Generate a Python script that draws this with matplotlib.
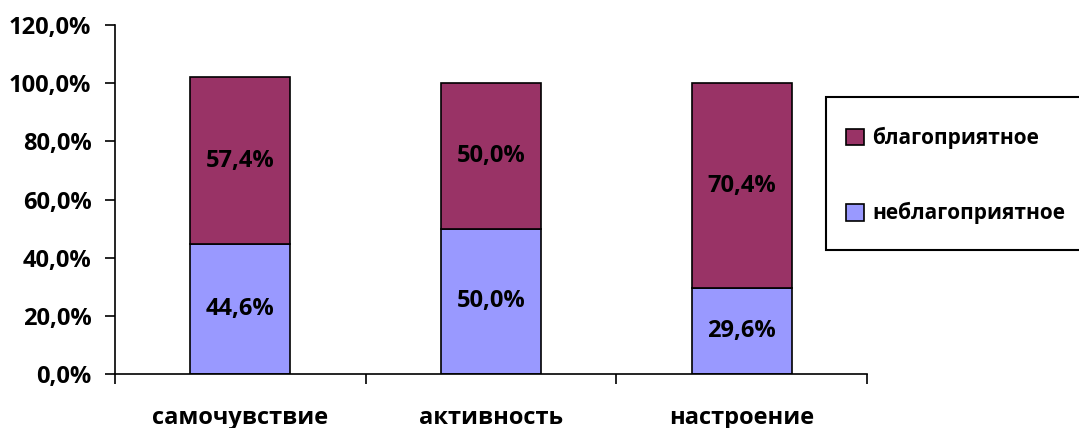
import matplotlib.pyplot as plt
from matplotlib.patches import Rectangle
from matplotlib.ticker import FixedLocator, FuncFormatter

categories = ['самочувствие', 'активность', 'настроение']
unfavorable = [44.6, 50.0, 29.6]
favorable = [57.4, 50.0, 70.4]
yticks = [0, 20, 40, 60, 80, 100, 120]

plt.rcParams['font.family'] = ['Open Sans', 'DejaVu Sans']
plt.rcParams['font.weight'] = 'bold'

W, H = 1079, 428
fig = plt.figure(figsize=(W / 100, H / 100), dpi=100)
ax = fig.add_axes([115 / W, (H - 374) / H, (867 - 115) / W, (374 - 25) / H])

x = [i + 0.5 for i in range(len(categories))]
bw = 0.4
b1 = ax.bar(x, unfavorable, bw, color='#9999FF', edgecolor='black', linewidth=1.2,
            label='неблагоприятное')
b2 = ax.bar(x, favorable, bw, bottom=unfavorable, color='#993366', edgecolor='black',
            linewidth=1.2, label='благоприятное')

def pct(v):
    return ('%.1f%%' % v).replace('.', ',')

for xi, lo, hi in zip(x, unfavorable, favorable):
    ax.text(xi, lo / 2, pct(lo), ha='center', va='center', fontsize=17, fontweight='bold')
    ax.text(xi, lo + hi / 2, pct(hi), ha='center', va='center', fontsize=17, fontweight='bold')

ax.set_xlim(0, 3)
ax.set_ylim(0, 120)
ax.set_yticks(yticks)
ax.yaxis.set_major_formatter(FuncFormatter(lambda v, p: pct(v)))
ax.tick_params(axis='y', direction='out', length=7, width=1.2, labelsize=17, pad=10)

ax.xaxis.set_major_locator(FixedLocator([0, 1, 2, 3]))
ax.xaxis.set_major_formatter(FuncFormatter(lambda v, p: ''))
ax.xaxis.set_minor_locator(FixedLocator(x))
ax.set_xticklabels(categories, minor=True)
ax.tick_params(axis='x', which='major', direction='out', length=7, width=1.2)
ax.tick_params(axis='x', which='minor', length=0, labelsize=17, pad=23)

for s in ['top', 'right']:
    ax.spines[s].set_visible(False)
for s in ['left', 'bottom']:
    ax.spines[s].set_linewidth(1.2)

# legend box runs off the right edge
fig.patches.append(Rectangle((826 / W, 1 - 250 / H), 300 / W, 153 / H,
                             transform=fig.transFigure, facecolor='white',
                             edgecolor='black', linewidth=1.5))
fig.legend(handles=[b2, b1], loc='upper left',
           bbox_to_anchor=(846 / W, 1 - 127 / H), fontsize=15,
           frameon=False, handlelength=0.85, handleheight=0.85, handletextpad=0.4,
           labelspacing=2.55, borderpad=0, borderaxespad=0)

fig.savefig('out.png', dpi=100)
